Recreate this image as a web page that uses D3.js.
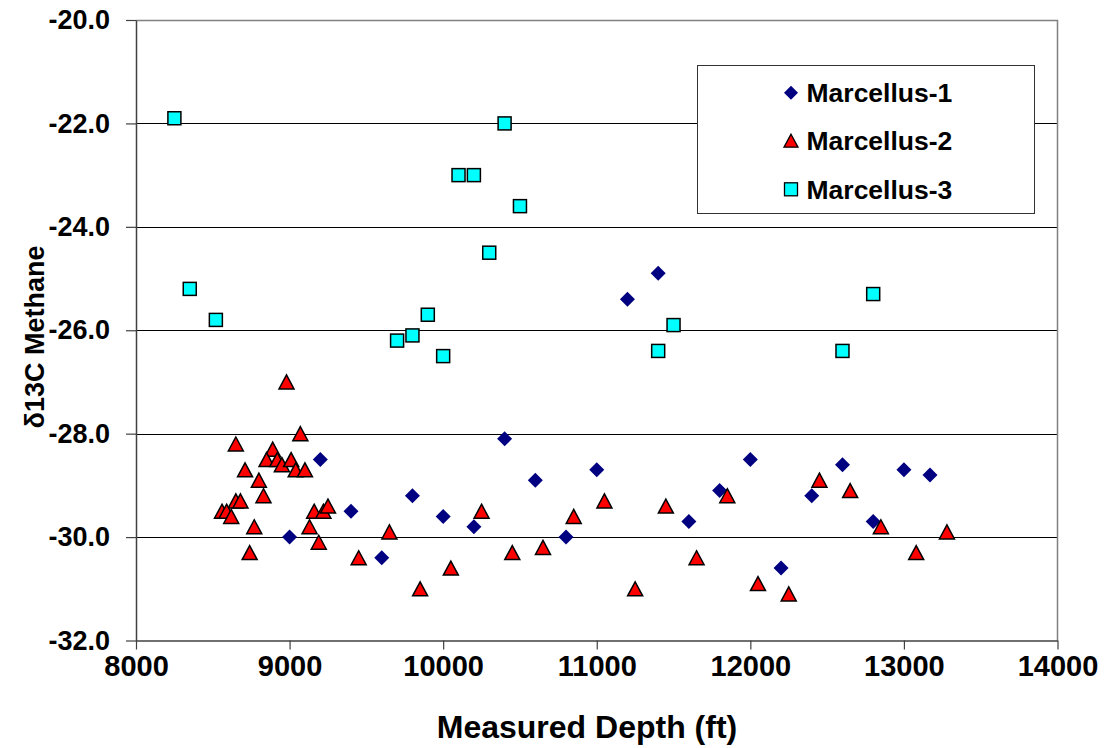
<!DOCTYPE html>
<html>
<head>
<meta charset="utf-8">
<script src="https://cdn.jsdelivr.net/npm/d3@7"></script>
<style>
  body { margin: 0; background: #fff; }
  svg text { font-family: "Liberation Sans", Arial, sans-serif; font-weight: bold; fill: #000; }
</style>
</head>
<body>
<div id="chart"></div>
<script>
// data
var m1Depth = [9000, 9200, 9400, 9600, 9800, 10000, 10200, 10400, 10600, 10800, 11000, 11200, 11400, 11600, 11800, 12000, 12200, 12400, 12600, 12800, 13000, 13170];
var m1Value = [-30.0, -28.5, -29.5, -30.4, -29.2, -29.6, -29.8, -28.1, -28.9, -30.0, -28.7, -25.4, -24.9, -29.7, -29.1, -28.5, -30.6, -29.2, -28.6, -29.7, -28.7, -28.8];

var m2Depth = [8980, 9070, 8650, 8890, 8850, 8920, 8950, 9010, 9040, 9100, 8710, 8800, 8830, 8650, 8680, 8560, 8590, 8620, 8770, 8740, 9160, 9220, 9250, 9130, 9190,
               9450, 9650, 9850, 10050, 10250, 10450, 10650, 10850, 11050, 11250, 11450, 11650, 11850, 12050, 12250, 12450, 12650, 12850, 13080, 13280];
var m2Value = [-27.0, -28.0, -28.2, -28.3, -28.5, -28.5, -28.6, -28.5, -28.7, -28.7, -28.7, -28.9, -29.2, -29.3, -29.3, -29.5, -29.5, -29.6, -29.8, -30.3, -29.5, -29.5, -29.4, -29.8, -30.1,
               -30.4, -29.9, -31.0, -30.6, -29.5, -30.3, -30.2, -29.6, -29.3, -31.0, -29.4, -30.4, -29.2, -30.9, -31.1, -28.9, -29.1, -29.8, -30.3, -29.9];

var m3Depth = [8250, 10400, 10100, 10200, 10500, 10300, 8350, 8520, 9900, 9800, 9700, 10000, 11500, 11400, 12600, 12800];
var m3Value = [-21.9, -22.0, -23.0, -23.0, -23.6, -24.5, -25.2, -25.8, -25.7, -26.1, -26.2, -26.5, -25.9, -26.4, -26.4, -25.3];

var seriesNames = ["Marcellus-1", "Marcellus-2", "Marcellus-3"];
var xTicks = [8000, 9000, 10000, 11000, 12000, 13000, 14000];
var yTicks = [-20, -22, -24, -26, -28, -30, -32];

const width = 1107, height = 748;
const plot = {left: 136, right: 1057.5, top: 20, bottom: 640.5};

const svg = d3.select("#chart").append("svg")
  .attr("width", width)
  .attr("height", height);

const xScale = d3.scaleLinear().domain([8000, 14000]).range([plot.left, plot.right]);
const yScale = d3.scaleLinear().domain([-32, -20]).range([plot.bottom, plot.top]);

// gridlines
svg.append("g")
  .selectAll("line")
  .data(yTicks.filter(function(d) { return d > -32 && d < -20; }))
  .enter().append("line")
  .attr("x1", plot.left).attr("x2", plot.right)
  .attr("y1", function(d) { return Math.round(yScale(d)) + 0.5; })
  .attr("y2", function(d) { return Math.round(yScale(d)) + 0.5; })
  .attr("stroke", "#000").attr("stroke-width", 1);

// plot border (top/right)
svg.append("path")
  .attr("d", "M" + plot.left + "," + (plot.top + 0.5) + "H" + plot.right + "V" + plot.bottom)
  .attr("fill", "none").attr("stroke", "#808080").attr("stroke-width", 1.5);

// axes
const yAxis = d3.axisLeft(yScale)
  .tickValues(yTicks)
  .tickSize(10)
  .tickSizeOuter(0)
  .tickPadding(16)
  .tickFormat(function(d) { return d.toFixed(1); });
const yAxisGroup = svg.append("g")
  .attr("transform", "translate(" + plot.left + ",0)")
  .call(yAxis);
yAxisGroup.selectAll("text").style("font-size", "27px").attr("fill", "#000");

const xAxis = d3.axisBottom(xScale)
  .tickValues(xTicks)
  .tickSize(9)
  .tickSizeOuter(0)
  .tickPadding(26)
  .tickFormat(function(d) { return d; });
const xAxisGroup = svg.append("g")
  .attr("transform", "translate(0," + plot.bottom + ")")
  .call(xAxis);
xAxisGroup.selectAll("text").style("font-size", "29px").attr("fill", "#000").attr("dy", "0");

svg.selectAll(".domain").attr("stroke", "#404040").attr("stroke-width", 1.5);
svg.selectAll(".tick line").attr("stroke", "#404040").attr("stroke-width", 1.2);

// axis titles
svg.append("text")
  .attr("x", 587).attr("y", 738)
  .attr("text-anchor", "middle")
  .style("font-size", "32px")
  .text("Measured Depth (ft)");

svg.append("text")
  .attr("transform", "translate(44,337) rotate(-90)")
  .attr("text-anchor", "middle")
  .style("font-size", "27px")
  .text("δ13C Methane");

// marker shapes
const diamond = "M0,-7.5L7.5,0L0,7.5L-7.5,0Z";
const triangle = "M0,-7L7.5,7L-7.5,7Z";

function zip(xs, ys) { return xs.map(function(d, i) { return {x: d, y: ys[i]}; }); }

svg.append("g").selectAll("path")
  .data(zip(m1Depth, m1Value))
  .enter().append("path")
  .attr("d", diamond)
  .attr("transform", function(d) { return "translate(" + xScale(d.x) + "," + yScale(d.y) + ")"; })
  .attr("fill", "#000080");

svg.append("g").selectAll("path")
  .data(zip(m2Depth, m2Value))
  .enter().append("path")
  .attr("d", triangle)
  .attr("transform", function(d) { return "translate(" + xScale(d.x) + "," + yScale(d.y) + ")"; })
  .attr("fill", "#ff0000").attr("stroke", "#000").attr("stroke-width", 1.5).attr("stroke-linejoin", "miter");

svg.append("g").selectAll("rect")
  .data(zip(m3Depth, m3Value))
  .enter().append("rect")
  .attr("x", function(d) { return xScale(d.x) - 6.5; })
  .attr("y", function(d) { return yScale(d.y) - 6.5; })
  .attr("width", 13).attr("height", 13)
  .attr("fill", "#00ffff").attr("stroke", "#000").attr("stroke-width", 1.5);

// legend
const legend = svg.append("g");
legend.append("rect")
  .attr("x", 697.5).attr("y", 65.5).attr("width", 337).attr("height", 148)
  .attr("fill", "#fff").attr("stroke", "#333").attr("stroke-width", 1);

const legendRows = [92.7, 140.7, 189.3];
const legendMarkerX = 791;
legend.append("path").attr("d", "M0,-7L7,0L0,7L-7,0Z")
  .attr("transform", "translate(" + legendMarkerX + "," + legendRows[0] + ")").attr("fill", "#000080");
legend.append("path").attr("d", "M0,-6.5L7,6.5L-7,6.5Z")
  .attr("transform", "translate(" + legendMarkerX + "," + legendRows[1] + ")")
  .attr("fill", "#ff0000").attr("stroke", "#000").attr("stroke-width", 1.3);
legend.append("rect")
  .attr("x", legendMarkerX - 6.5).attr("y", legendRows[2] - 6.5).attr("width", 13).attr("height", 13)
  .attr("fill", "#00ffff").attr("stroke", "#000").attr("stroke-width", 1.3);

legend.selectAll("text.lg")
  .data(seriesNames)
  .enter().append("text")
  .attr("class", "lg")
  .attr("x", 806.5)
  .attr("y", function(d, i) { return legendRows[i] + 9.5; })
  .style("font-size", "26.5px")
  .text(function(d) { return d; });
</script>
</body>
</html>
